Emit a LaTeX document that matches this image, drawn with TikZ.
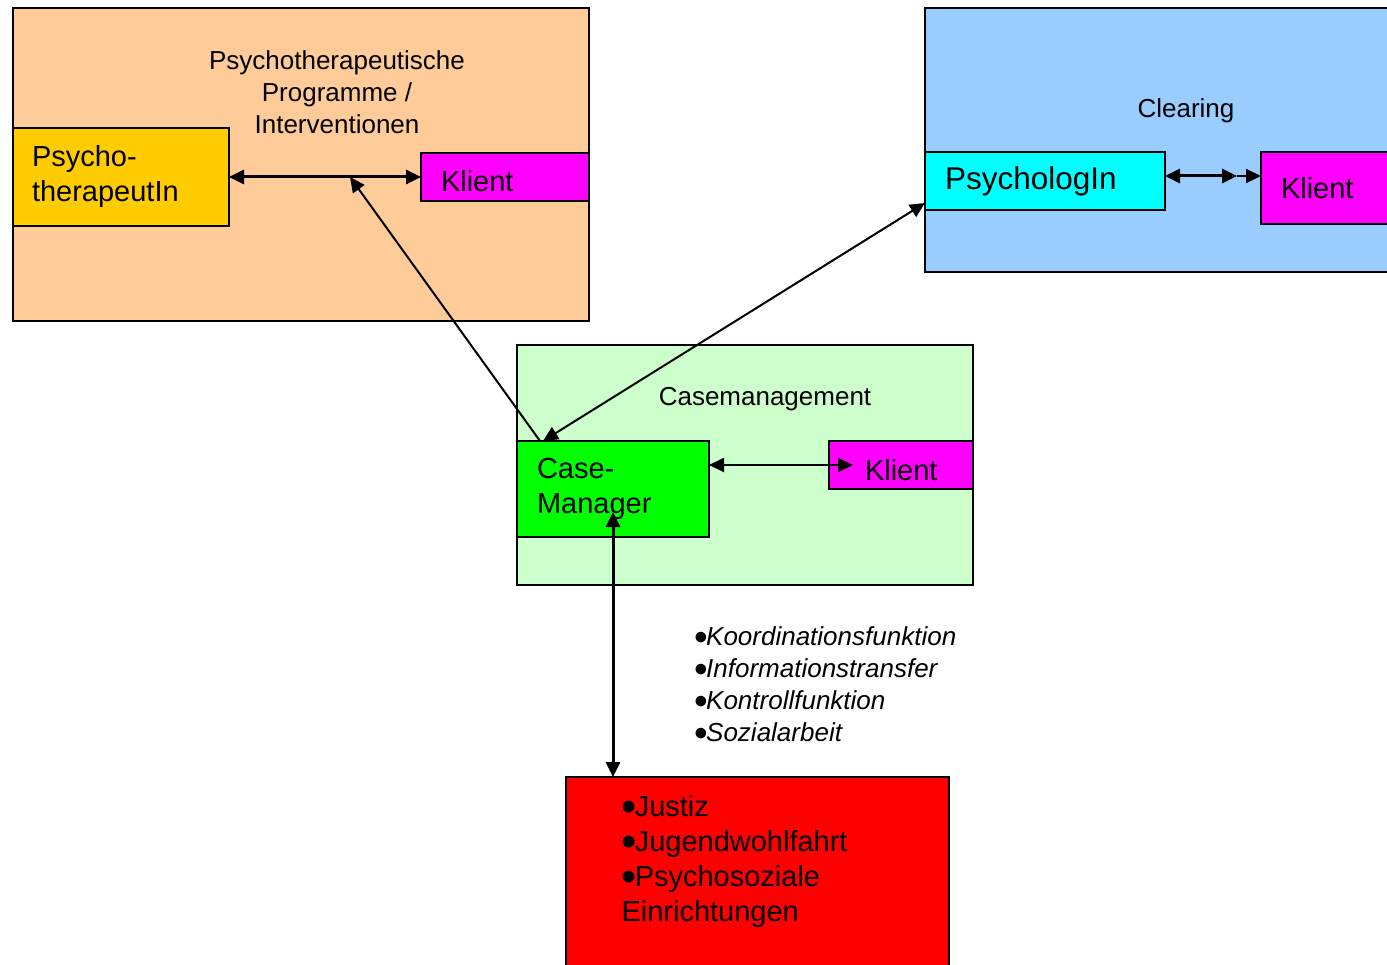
\documentclass[tikz,border=0pt]{standalone}
\usepackage{fontspec}
\setmainfont{Liberation Sans}
\usetikzlibrary{arrows.meta,calc}
\definecolor{orangebg}{HTML}{FFCC99}
\definecolor{bluebg}{HTML}{99CCFF}
\definecolor{greenbg}{HTML}{CCFFCC}
\definecolor{yellowbox}{HTML}{FFCC00}
\definecolor{cyanbox}{HTML}{00FFFF}
\definecolor{magbox}{HTML}{FF00FF}
\definecolor{greenbox}{HTML}{00FF00}
\definecolor{redbox}{HTML}{FF0000}
\newcommand{\bul}{\smash{\raisebox{-0.19em}{\scalebox{1.5}{\upshape\textbullet}}}\kern-2pt}
\begin{document}
\begin{tikzpicture}[x=1pt,y=-1pt,
  area/.style={draw=black,line width=2.5pt},
  box/.style={draw=black,line width=2.5pt,rectangle,inner ysep=0pt,outer sep=0pt,anchor=north west,align=left},
  big/.style={font=\fontsize{29}{35}\selectfont},
  small/.style={font=\fontsize{26}{32}\selectfont},
  tip/.style={-{Triangle[length=15pt,width=14pt]}},
  tips/.style={{Triangle[length=15pt,width=14pt]}-{Triangle[length=15pt,width=14pt]}},
  thick line/.style={line width=3pt},
  thin line/.style={line width=2pt}]
\clip (0,0) rectangle (1387,965);
\fill[white] (0,0) rectangle (1387,965);

% background areas
\draw[area,fill=orangebg] (13,8) rectangle (589,321);
\draw[area,fill=bluebg] (925,8) rectangle (1395,272);
\draw[area,fill=greenbg] (517,345) rectangle (973,585);
\draw[area,fill=redbox] (566,777) rectangle (949,990);

% titles
\node[small,align=center] (ttl1) at (337,92) {Psychotherapeutische\\Programme /\\Interventionen};
\node[small] (ttl2) at (1186,111) {Clearing};
\node[small] (ttl3) at (765,399) {Casemanagement};

% boxes
\node[box,big,fill=yellowbox,minimum height=98pt,text width=178pt,inner xsep=19pt] (pt) at (13,128) {Psycho-\\therapeutIn};
\node[box,big,fill=magbox,minimum height=48pt,text width=128pt,inner xsep=20pt,text height=30pt,text depth=0pt] (kl1) at (421,153) {Klient};
\node[box,fill=cyanbox,minimum height=58pt,text width=200pt,inner xsep=20pt,font=\fontsize{31.5}{36}\selectfont] (ps) at (925,152) {PsychologIn};
\node[box,big,fill=magbox,minimum height=72pt,text width=100pt,inner xsep=20pt] (kl2) at (1261,152) {Klient};
\node[box,big,fill=greenbox,minimum height=96pt,text width=152pt,inner xsep=20pt] (cm) at (517,441) {Case-\\Manager};
\node[box,big,fill=magbox,minimum height=48pt,text width=72pt,inner xsep=36pt,text height=30pt,text depth=0pt] (kl3) at (829,441) {Klient};

% lists
\node[anchor=west,align=left,font=\fontsize{26}{32}\selectfont\itshape] (list) at (691,684)
  {\bul Koordinationsfunktion\\\bul Informationstransfer\\\bul Kontrollfunktion\\\bul Sozialarbeit};
\node[big,anchor=west,align=left] (inst) at (618,861)
  {\bul Justiz\\\bul Jugendwohlfahrt\\\bul Psychosoziale\\Einrichtungen};

% connectors
\coordinate (m1) at (350,177);
\coordinate (m2) at (1237,176);
\draw[tips,thick line] (pt.east |- m1) -- (kl1.west |- m1);
\draw[tip,thin line] ($(cm.north west)+(23,0)$) -- (m1);
\draw[tips,thin line] ($(cm.north west)+(26,0)$) -- ($(ps.south west)+(0,-7)$);
\draw[tips,thick line] (ps.east |- m2) -- (m2);
\draw[tip,thin line] (m2) -- (kl2.west |- m2);
\draw[tips,thin line] (cm.east |- 0,465) -- ($(kl3.west |- 0,465)+(24,0)$);
\draw[tips,thick line] ($(cm.south west)+(96,-25)$) -- (613,777);
\end{tikzpicture}
\end{document}
